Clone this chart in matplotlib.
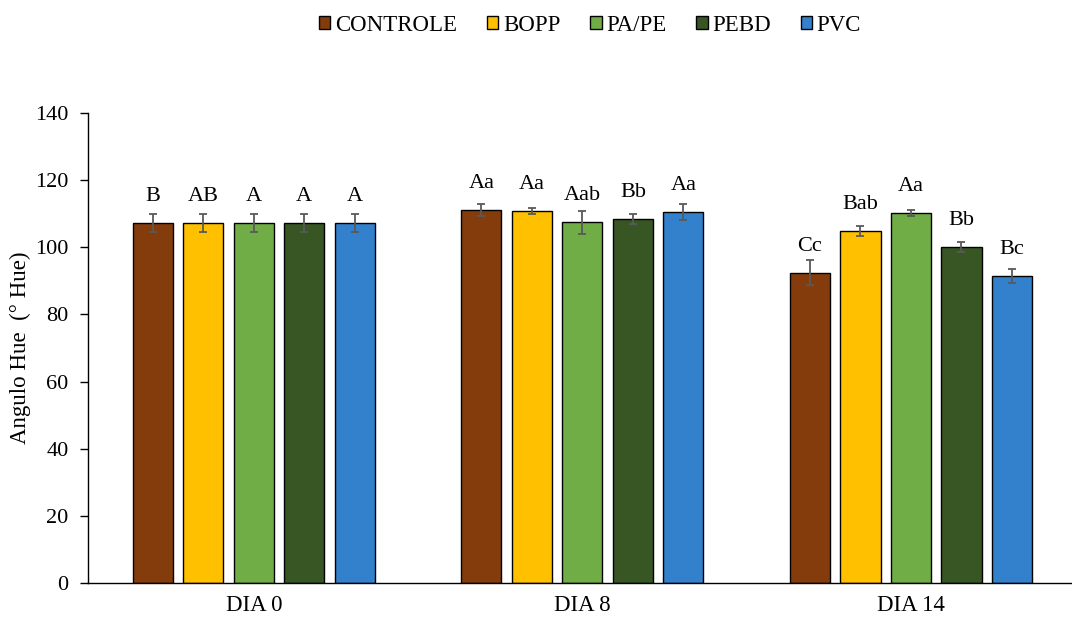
import matplotlib
matplotlib.use("Agg")
import matplotlib.pyplot as plt
import numpy as np

plt.rcParams['font.family'] = ['Liberation Serif', 'DejaVu Serif']

days = ["DIA 0", "DIA 8", "DIA 14"]
treatments = ["CONTROLE", "BOPP", "PA/PE", "PEBD", "PVC"]
colors = ["#843C0C", "#FFC000", "#70AD47", "#375623", "#3380CC"]

# mean hue angle per treatment, one list per day
hue_means = {
    "CONTROLE": [107.3, 111.1, 92.4],
    "BOPP":     [107.3, 110.8, 104.9],
    "PA/PE":    [107.3, 107.5, 110.2],
    "PEBD":     [107.3, 108.3, 100.0],
    "PVC":      [107.3, 110.5, 91.4],
}
hue_errors = {
    "CONTROLE": [2.7, 1.9, 3.7],
    "BOPP":     [2.7, 0.9, 1.5],
    "PA/PE":    [2.7, 3.4, 1.0],
    "PEBD":     [2.7, 1.5, 1.5],
    "PVC":      [2.7, 2.3, 2.1],
}
letters = {
    "CONTROLE": ["B", "Aa", "Cc"],
    "BOPP":     ["AB", "Aa", "Bab"],
    "PA/PE":    ["A", "Aab", "Aa"],
    "PEBD":     ["A", "Bb", "Bb"],
    "PVC":      ["A", "Aa", "Bc"],
}

fig = plt.figure(figsize=(10.72, 6.21), dpi=100)
ax = fig.add_axes([0.082, 0.0612, 0.918, 0.7568])

x = np.arange(len(days))
step = 0.1537
width = 0.1218

for i, t in enumerate(treatments):
    pos = x + (i - 2) * step
    ax.bar(pos, hue_means[t], width=width, color=colors[i], edgecolor="black",
           linewidth=1.0, label=t, zorder=2)
    ax.errorbar(pos, hue_means[t], yerr=hue_errors[t], fmt="none",
                ecolor="#595959", elinewidth=1.3, capsize=3, capthick=1.3, zorder=3)
    for p, v, s in zip(pos, hue_means[t], letters[t]):
        ax.annotate(s, (p, v), xytext=(0, 16), textcoords="offset points",
                    ha="center", va="baseline", fontsize=16)

ax.set_xlim(-0.505, 2.49)
ax.set_ylim(0, 140)
ax.set_yticks(np.arange(0, 141, 20))
ax.set_xticks(x)
ax.set_xticklabels(days)
ax.tick_params(axis="x", length=0, labelsize=16.5, pad=9)
ax.tick_params(axis="y", direction="out", length=6, width=1, labelsize=16, pad=8)

for side in ["top", "right"]:
    ax.spines[side].set_visible(False)
ax.spines["left"].set_linewidth(1)
ax.spines["bottom"].set_linewidth(1)

ax.set_ylabel("Angulo Hue  (° Hue)", fontsize=16.5, labelpad=3)

fig.legend(loc="upper center", bbox_to_anchor=(0.5504, 1.009), ncol=5, frameon=False,
           fontsize=16.5, handlelength=0.5, handleheight=0.5, handletextpad=0.2,
           columnspacing=1.3)

fig.savefig("out.png", dpi=100)
